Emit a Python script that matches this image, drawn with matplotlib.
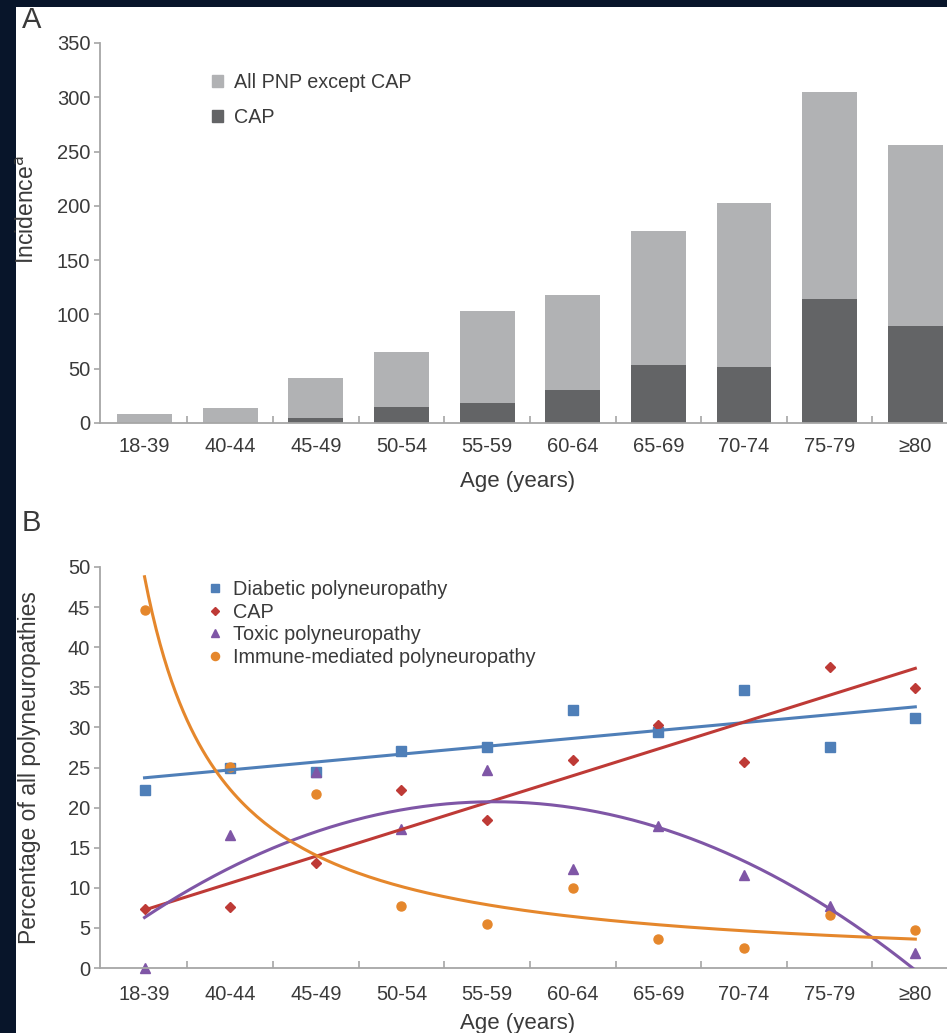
import numpy as np
import matplotlib
matplotlib.use("Agg")
import matplotlib.pyplot as plt
from matplotlib.patches import Patch, Rectangle

plt.rcParams['font.family'] = ['Liberation Sans', 'DejaVu Sans']

# age groups shared by both panels
age_groups = ["18-39", "40-44", "45-49", "50-54", "55-59",
              "60-64", "65-69", "70-74", "75-79", "≥80"]

# panel A: incidence (stacked)
incidence_total = [8, 14, 41, 65, 103, 118, 177, 203, 305, 256]
incidence_cap = [0, 0, 5, 15, 18, 30, 53, 52, 114, 89]

# panel B: percentage of all polyneuropathies
diabetic = [22.2, 25.0, 24.4, 27.1, 27.6, 32.2, 29.4, 34.7, 27.6, 31.2]
cap = [7.3, 7.6, 13.1, 22.2, 18.5, 25.9, 30.3, 25.7, 37.5, 34.9]
toxic = [0.0, 16.6, 24.4, 17.3, 24.7, 12.3, 17.7, 11.6, 7.7, 1.9]
immune = [44.6, 25.1, 21.7, 7.7, 5.5, 10.0, 3.6, 2.5, 6.6, 4.7]

W, H = 947, 1033
fig = plt.figure(figsize=(W / 100, H / 100), dpi=100, facecolor="white")
navy = "#08152a"
# dark page border on the left and top
fig.patches.append(Rectangle((0, 0), 16 / W, 1, transform=fig.transFigure,
                             facecolor=navy, edgecolor="none", zorder=-5))
fig.patches.append(Rectangle((0, 1 - 7 / H), 1, 7 / H, transform=fig.transFigure,
                             facecolor=navy, edgecolor="none", zorder=-5))

txt = "#3a3a3a"
axc = "#a6a6a6"
light_gray = "#b1b2b4"
dark_gray = "#636466"
x = np.arange(len(age_groups))


def style_axes(ax, ymax, ystep, pad):
    ax.set_facecolor("none")
    for s in ["top", "right"]:
        ax.spines[s].set_visible(False)
    for s in ["left", "bottom"]:
        ax.spines[s].set_color(axc)
        ax.spines[s].set_linewidth(1.3)
    ax.set_xlim(-0.52, 9.37)
    ax.set_ylim(0, ymax)
    ax.set_yticks(np.arange(0, ymax + 1, ystep))
    ax.set_xticks(x)
    ax.set_xticklabels(age_groups)
    ax.set_xticks(x[:-1] + 0.5, minor=True)
    ax.tick_params(axis="x", which="major", length=0, pad=pad, labelsize=14.5, labelcolor=txt)
    ax.tick_params(axis="x", which="minor", direction="in", length=5, color=axc, width=1.2)
    ax.tick_params(axis="y", direction="out", length=4, color=axc, width=1.2,
                   pad=3, labelsize=14.5, labelcolor=txt)


# ---- panel A ----
axA = fig.add_axes([100 / W, 1 - 423 / H, 1 - 100 / W, 380 / H])
other = np.array(incidence_total) - np.array(incidence_cap)
axA.bar(x, incidence_cap, width=0.64, color=dark_gray, zorder=2)
axA.bar(x, other, bottom=incidence_cap, width=0.64, color=light_gray, zorder=2)
style_axes(axA, 350, 50, 10)
axA.legend(handles=[Patch(color=light_gray, label="All PNP except CAP"),
                    Patch(color=dark_gray, label="CAP")],
           loc="upper left", bbox_to_anchor=(202 / W, 1 - 63 / H), bbox_transform=fig.transFigure,
           frameon=False, fontsize=14.2, labelcolor=txt, handlelength=0.55, handleheight=0.55,
           handletextpad=0.55, labelspacing=0.8, borderpad=0)

fig.text(27 / W, 1 - 210 / H, "Incidence$^{\\mathrm{a}}$", rotation=90, ha="center", va="center",
         fontsize=16.5, color=txt)
fig.text(518 / W, 1 - 482 / H, "Age (years)", ha="center", va="center", fontsize=16, color=txt)
fig.text(22 / W, 1 - 20 / H, "A", ha="left", va="center", fontsize=21, color=txt)

# ---- panel B ----
axB = fig.add_axes([100 / W, 1 - 968 / H, 1 - 100 / W, 401 / H])
style_axes(axB, 50, 5, 12)

xf = np.array(x, dtype=float) + 1
xs = np.linspace(1, 10, 200)
blue, red, purple, orange = "#4f7fb8", "#be3a36", "#7f56a6", "#e5872c"

# excel-style trend lines fitted from the points
fit_blue = np.polyval(np.polyfit(xf, diabetic, 1), xs)
fit_red = np.polyval(np.polyfit(xf, cap, 1), xs)
fit_purple = np.polyval(np.polyfit(xf, toxic, 2), xs)
b, lna = np.polyfit(np.log(xf), np.log(immune), 1)
fit_orange = np.exp(lna) * xs ** b

for fit, c in [(fit_blue, blue), (fit_red, red), (fit_purple, purple), (fit_orange, orange)]:
    axB.plot(xs - 1, fit, color=c, lw=2.2, zorder=3)

axB.plot(x, diabetic, "s", color=blue, ms=6.5, ls="none", zorder=2, label="Diabetic polyneuropathy")
axB.plot(x, cap, "D", color=red, ms=5, ls="none", zorder=2, label="CAP")
axB.plot(x, toxic, "^", color=purple, ms=7, ls="none", zorder=2, label="Toxic polyneuropathy",
         clip_on=False)
axB.plot(x, immune, "o", color=orange, ms=6.5, ls="none", zorder=2,
         label="Immune-mediated polyneuropathy")

axB.legend(loc="upper left", bbox_to_anchor=(198 / W, 1 - 570 / H), bbox_transform=fig.transFigure,
           frameon=False, fontsize=14.3, labelcolor=txt, handlelength=0.7, handletextpad=0.55,
           labelspacing=0.18, borderpad=0, markerscale=0.9)

fig.text(30 / W, 1 - 768 / H, "Percentage of all polyneuropathies", rotation=90, ha="center",
         va="center", fontsize=16.5, color=txt)
fig.text(518 / W, 1 - 1023 / H, "Age (years)", ha="center", va="center", fontsize=16, color=txt)
fig.text(22 / W, 1 - 523 / H, "B", ha="left", va="center", fontsize=21, color=txt)

fig.savefig("out.png", dpi=100)
